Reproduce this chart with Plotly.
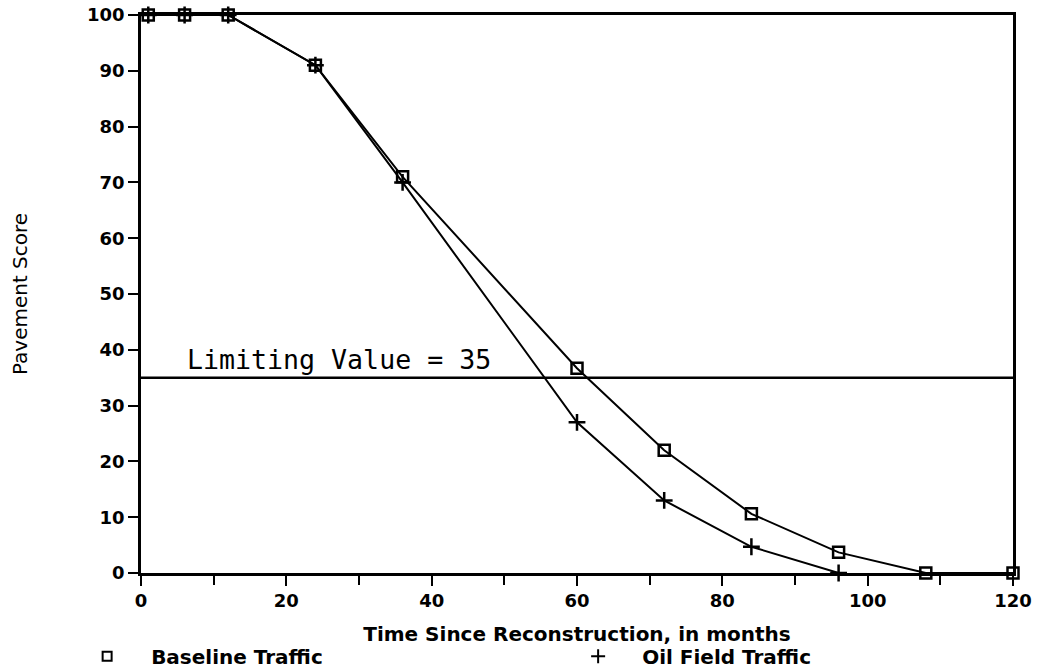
import plotly.graph_objects as go

months_base = [1, 6, 12, 24, 36, 60, 72, 84, 96, 108, 120]
score_base = [100, 100, 100, 91, 71, 36.7, 22, 10.6, 3.7, 0, 0]
months_oil = [1, 6, 12, 24, 36, 60, 72, 84, 96]
score_oil = [100, 100, 100, 91, 70, 27, 13, 4.7, 0]
limit_value = 35
x_ticks = [0, 20, 40, 60, 80, 100, 120]
y_ticks = [0, 10, 20, 30, 40, 50, 60, 70, 80, 90, 100]

FONT = "DejaVu Sans"

fig = go.Figure()
fig.add_trace(go.Scatter(
    x=months_base, y=score_base, mode="lines+markers", name="Baseline Traffic",
    line=dict(color="black", width=2),
    marker=dict(symbol="square-open", size=11, color="black", line=dict(width=2.5)),
    cliponaxis=False, showlegend=False))
fig.add_trace(go.Scatter(
    x=months_oil, y=score_oil, mode="lines+markers", name="Oil Field Traffic",
    line=dict(color="black", width=2),
    marker=dict(symbol="cross-thin", size=12, color="black", line=dict(width=2.5, color="black")),
    cliponaxis=False, showlegend=False))
# legend-only entries (markers only)
fig.add_trace(go.Scatter(x=[None], y=[None], mode="markers", name="Baseline Traffic",
    marker=dict(symbol="square-open", size=9, color="black", line=dict(width=2))))
fig.add_trace(go.Scatter(x=[None], y=[None], mode="markers", name="Oil Field Traffic",
    marker=dict(symbol="cross-thin", size=10, color="black", line=dict(width=2, color="black"))))

fig.add_shape(type="line", xref="x", yref="y", x0=0, x1=120, y0=limit_value, y1=limit_value,
              line=dict(color="black", width=2.5))
fig.add_annotation(x=6.1, y=limit_value + 0.1, xref="x", yref="y", text=f"Limiting Value = {limit_value}",
                   showarrow=False, xanchor="left", yanchor="bottom",
                   font=dict(family="DejaVu Sans Mono", size=26.6, color="black"))

fig.update_layout(
    width=1040, height=672,
    margin=dict(l=141, r=27, t=15, b=99, autoexpand=False),
    paper_bgcolor="white", plot_bgcolor="white",
    font=dict(family=FONT, color="black"),
    legend=dict(orientation="h", x=-0.0893, y=-0.149, xanchor="left", yanchor="middle",
                font=dict(size=20, family=FONT, weight="bold"), entrywidth=398, entrywidthmode="pixels",
                itemwidth=78, itemsizing="trace", tracegroupgap=0),
)
fig.update_xaxes(
    range=[0, 120], tickvals=x_ticks, ticktext=[str(v) for v in x_ticks], automargin=False,
    showgrid=False, zeroline=False, showline=True, mirror=True, linecolor="black", linewidth=2.5,
    ticks="outside", ticklen=10, tickwidth=2, tickcolor="black",
    minor=dict(dtick=10, tick0=0, ticks="outside", ticklen=9, tickwidth=2, tickcolor="black"),
    tickfont=dict(size=18, family=FONT, weight="bold"),
    title=dict(text="Time Since Reconstruction, in months",
               font=dict(size=20, family=FONT, weight="bold"), standoff=17),
)
fig.update_yaxes(
    range=[0, 100], tickvals=y_ticks, ticktext=[str(v) for v in y_ticks], automargin=False,
    showgrid=False, zeroline=False, showline=True, mirror=True, linecolor="black", linewidth=2.5,
    ticks="outside", ticklen=10, tickwidth=2, tickcolor="black",
    tickfont=dict(size=18, family=FONT, weight="bold"),
    title=dict(text="Pavement Score", font=dict(size=20, family=FONT), standoff=55),
)

# remove the browser's default 8px body margin so the figure sits at the page origin
fig.write_html("out.html", config={"displayModeBar": False},
               post_script="document.body.style.margin='0';")
